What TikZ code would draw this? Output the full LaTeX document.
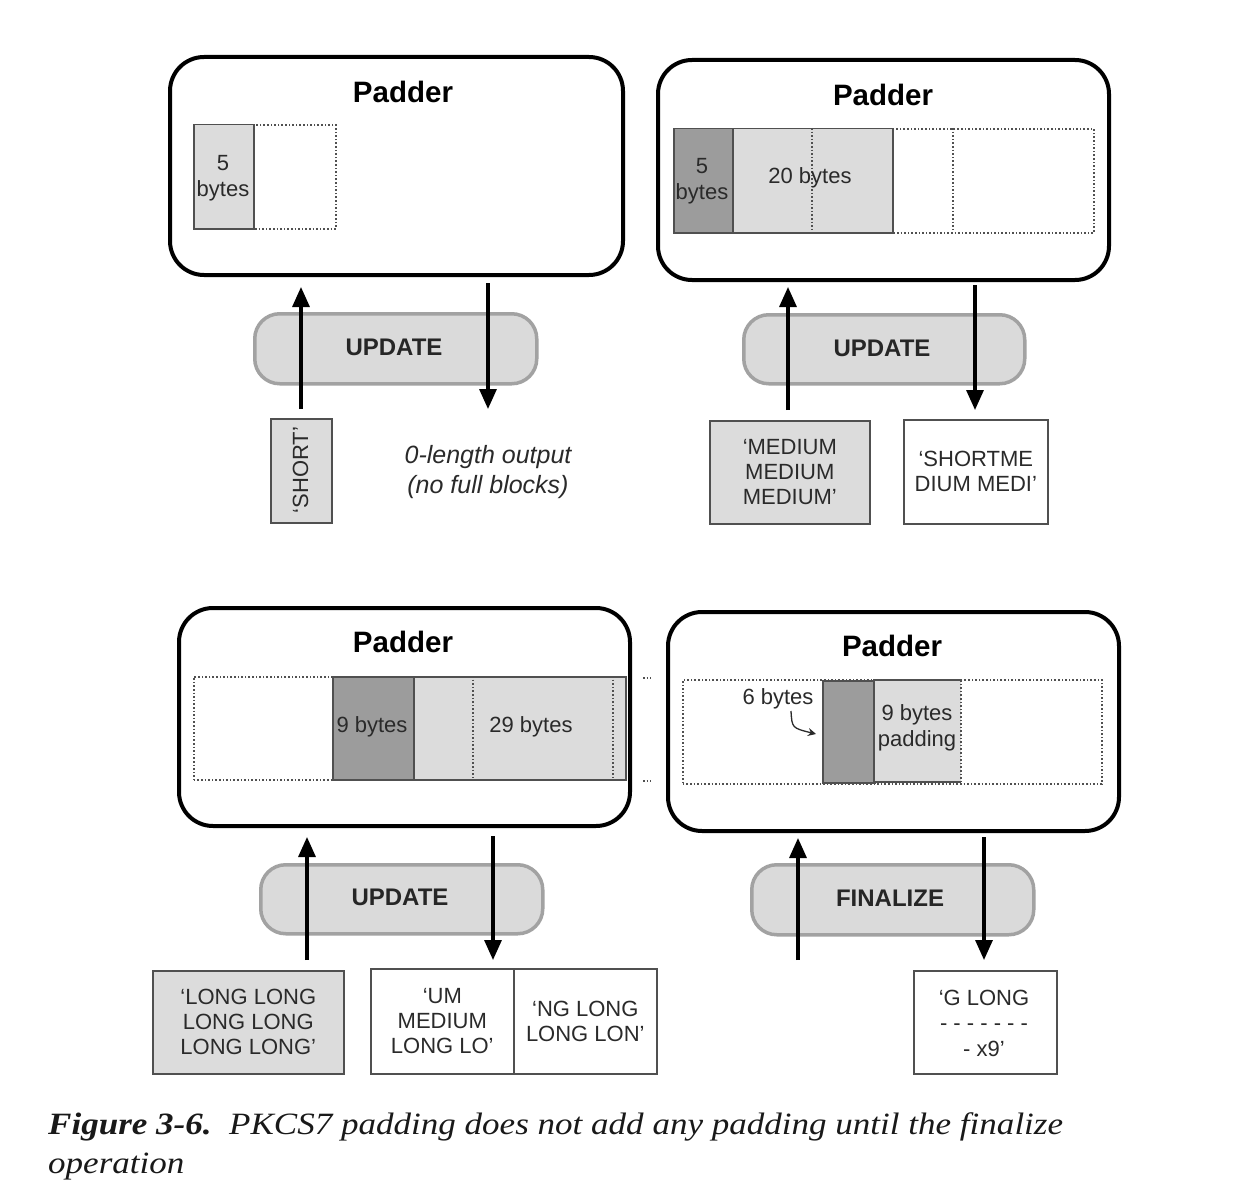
\documentclass[tikz,border=0pt]{standalone}
\usepackage{fontspec}
\setmainfont{Liberation Sans}
\newfontfamily\capfont{Liberation Serif}
\usetikzlibrary{arrows.meta}
\definecolor{lightg}{HTML}{DCDCDC}
\definecolor{darkg}{HTML}{9C9C9C}
\definecolor{pillfill}{HTML}{DADADA}
\definecolor{pillline}{HTML}{A2A2A2}
\definecolor{txt}{HTML}{2A2A2A}
\definecolor{edge}{HTML}{505050}
\newcommand{\mybox}[7]{\node[#2, anchor=north west, inner sep=0pt, minimum width={(#5-#3)*1pt}, minimum height={(#6-#4)*1pt}] (#1) at (#3,#4) {#7};}
\tikzset{
  padder/.style={draw=black, line width=4pt, rounded corners=34pt, fill=white},
  ptitle/.style={font=\bfseries\fontsize{29.5}{33}\selectfont, text=black},
  pill/.style={draw=pillline, fill=pillfill, line width=3.5pt, rounded corners=25pt},
  ptext/.style={font=\bfseries\fontsize{24}{27}\selectfont, text=black!85},
  arr/.style={line width=3.2pt, -{Triangle[length=20pt,width=17pt]}},
  dotline/.style={draw=edge, line width=1.6pt, dotted},
  light/.style={fill=lightg, draw=edge, line width=1.5pt},
  dark/.style={fill=darkg, draw=edge, line width=1.5pt},
  iogray/.style={fill=lightg, draw=edge, line width=1.6pt, font=\fontsize{22}{25}\selectfont, text=txt, align=center},
  iowhite/.style={fill=white, draw=edge, line width=1.6pt, font=\fontsize{22}{25}\selectfont, text=txt, align=center},
  lbl/.style={font=\fontsize{22}{26}\selectfont, text=txt, align=center, inner sep=0pt},
  captxt/.style={anchor=base west, inner sep=0pt, font=\capfont\itshape\fontsize{31}{38}\selectfont, text=black!90},
}
\begin{document}
\begin{tikzpicture}[x=1pt,y=-1pt]
\useasboundingbox (0,0) rectangle (1240,1204);
\fill[white] (0,0) rectangle (1240,1204);

%% ---------------- Panel 1 (top left)
\mybox{P1}{padder}{168}{55}{621}{273}{}
\node[ptitle] (T1) at (403,92) {Padder};
\mybox{D1}{dotline}{193}{124}{335}{228}{}
\mybox{B1}{light}{193}{124}{253}{228}{}
\node[lbl] (B1t) at (223,178) {5\\bytes};
\mybox{U1}{pill}{253}{312}{535}{382}{}
\node[ptext] (U1t) at (394,347) {UPDATE};
\mybox{S1}{iogray}{270}{418}{331}{522}{}
\node[lbl, rotate=90] (S1t) at (300.5,470) {‘SHORT’};
\node[lbl, font=\itshape\fontsize{25}{30}\selectfont] (Z1) at (488,472) {0-length output\\(no full blocks)};
\coordinate (a1s) at (301,409); \coordinate (a1e) at (301,287);
\coordinate (b1s) at (488,283); \coordinate (b1e) at (488,409);
\draw[arr] (a1s) -- (a1e);
\draw[arr] (b1s) -- (b1e);

%% ---------------- Panel 2 (top right)
\mybox{P2}{padder}{656}{58}{1107}{278}{}
\node[ptitle] (T2) at (883,95) {Padder};
\mybox{D2}{dotline}{673}{128}{1093}{232}{}
\mybox{B2a}{dark}{673}{128}{732}{232}{}
\mybox{B2b}{light}{732}{128}{892}{232}{}
\coordinate (v2at) at (812,128); \coordinate (v2ab) at (812,232);
\coordinate (v2bt) at (953,128); \coordinate (v2bb) at (953,232);
\draw[dotline] (v2at) -- (v2ab);
\draw[dotline] (v2bt) -- (v2bb);
\node[lbl] (B2at) at (702,181) {5\\bytes};
\node[lbl] (B2bt) at (810,178) {20 bytes};
\mybox{U2}{pill}{742}{313}{1023}{382}{}
\node[ptext] (U2t) at (882,348) {UPDATE};
\mybox{M2}{iogray}{709}{420}{869}{523}{‘MEDIUM\\MEDIUM\\MEDIUM’}
\mybox{O2}{iowhite}{903}{419}{1047}{523}{‘SHORTME\\DIUM MEDI’}
\coordinate (a2s) at (788,410); \coordinate (a2e) at (788,287);
\coordinate (b2s) at (975,285); \coordinate (b2e) at (975,410);
\draw[arr] (a2s) -- (a2e);
\draw[arr] (b2s) -- (b2e);

%% ---------------- Panel 3 (bottom left)
\mybox{P3}{padder}{177}{606}{628}{824}{}
\node[ptitle] (T3) at (403,642) {Padder};
\mybox{D3}{dotline}{193}{676}{625}{779}{}
\mybox{B3a}{dark}{332}{676}{413}{779}{}
\mybox{B3b}{light}{413}{676}{625}{779}{}
\coordinate (v3at) at (473,676); \coordinate (v3ab) at (473,779);
\coordinate (v3bt) at (613,676); \coordinate (v3bb) at (613,779);
\draw[dotline] (v3at) -- (v3ab);
\draw[dotline] (v3bt) -- (v3bb);
\node[lbl] (B3at) at (372,727) {9 bytes};
\node[lbl] (B3bt) at (531,727) {29 bytes};
\coordinate (m1a) at (643,678); \coordinate (m1b) at (651,678);
\coordinate (m2a) at (643,781); \coordinate (m2b) at (651,781);
\draw[dotline, line width=2pt] (m1a) -- (m1b);
\draw[dotline, line width=2pt] (m2a) -- (m2b);
\mybox{U3}{pill}{259}{863}{541}{932}{}
\node[ptext] (U3t) at (400,897) {UPDATE};
\mybox{L3}{iogray}{152}{970}{343}{1073}{‘LONG LONG\\LONG LONG\\LONG LONG’}
\mybox{O3a}{iowhite}{370}{968}{513}{1073}{‘UM\\MEDIUM\\LONG LO’}
\mybox{O3b}{iowhite}{513}{968}{656}{1073}{‘NG LONG\\LONG LON’}
\coordinate (a3s) at (307,960); \coordinate (a3e) at (307,837);
\coordinate (b3s) at (493,836); \coordinate (b3e) at (493,960);
\draw[arr] (a3s) -- (a3e);
\draw[arr] (b3s) -- (b3e);

%% ---------------- Panel 4 (bottom right)
\mybox{P4}{padder}{666}{610}{1117}{829}{}
\node[ptitle] (T4) at (892,646) {Padder};
\mybox{D4}{dotline}{682}{679}{1101}{783}{}
\mybox{B4a}{dark}{822}{680}{874}{782}{}
\fill[lightg] (874,680) rectangle (961,782);
\coordinate (c4a) at (961,680); \coordinate (c4b) at (874,680);
\coordinate (c4c) at (874,782); \coordinate (c4d) at (961,782);
\draw[edge, line width=1.5pt] (c4a) -- (c4b) -- (c4c) -- (c4d);
\draw[dotline] (c4a) -- (c4d);
\node[lbl] (B4t) at (917,728) {9 bytes\\padding};
\node[lbl] (S4t) at (778,699) {6 bytes};
\coordinate (c6s) at (791,711); \coordinate (c6e) at (816,734);
\draw[line width=1.3pt, txt, -{Stealth[length=8pt,width=8pt]}] (c6s) .. controls (792,728) .. (c6e);
\mybox{F4}{pill}{750}{863}{1032}{933}{}
\node[ptext] (F4t) at (890,898) {FINALIZE};
\mybox{G4}{iowhite}{913}{970}{1056}{1073}{}
\node[lbl] (G4a) at (984,998) {‘G LONG};
\node[lbl] (G4b) at (984,1027) {- - - - - - -};
\node[lbl] (G4c) at (984,1049) {- x9’};
\coordinate (a4s) at (798,960); \coordinate (a4e) at (798,838);
\coordinate (b4s) at (984,837); \coordinate (b4e) at (984,960);
\draw[arr] (a4s) -- (a4e);
\draw[arr] (b4s) -- (b4e);

%% ---------------- Caption
\node[captxt] (C1) at (48,1134) {\scalebox{1.13}[1]{\textbf{Figure 3-6.}\ \ PKCS7 padding does not add any padding until the finalize}};
\node[captxt] (C2) at (48,1173) {\scalebox{1.13}[1]{operation}};
\end{tikzpicture}
\end{document}
